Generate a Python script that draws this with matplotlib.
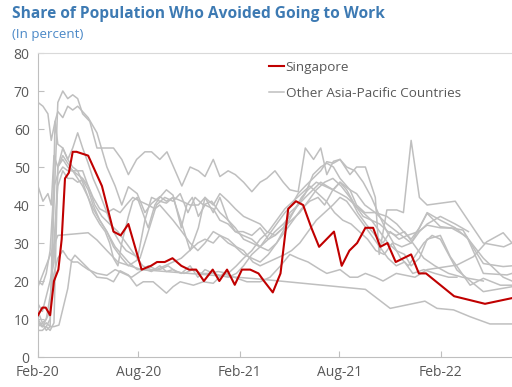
import matplotlib
matplotlib.use("Agg")
import matplotlib.pyplot as plt
import matplotlib.dates as mdates
import pandas as pd
from matplotlib.lines import Line2D

plt.rcParams['font.family'] = ['Open Sans', 'DejaVu Sans']

# survey dates are stored as days since 1 Feb 2020
start = pd.Timestamp('2020-02-01')

sg_days = [0, 8, 14, 22, 29, 37, 43, 49, 56, 63, 70, 91, 116, 137, 150, 164, 188, 205, 216, 230,
           244, 260, 274, 287, 301, 317, 329, 343, 357, 370, 385, 400, 410, 426, 440, 454, 468, 481, 496, 510,
           537, 551, 565, 579, 594, 608, 621, 634, 649, 677, 691, 704, 755, 811, 860]
sg_vals = [11, 13, 13, 11, 20, 23, 31, 47, 48.5, 54, 54, 53, 45, 33, 32, 35, 23, 24, 25, 25,
           26, 24, 23, 23, 20, 23, 20, 23, 19, 23, 23, 22, 20, 17, 22, 39, 41, 40, 34, 29,
           33, 24, 28, 30, 34, 34, 29, 30, 25, 27, 22, 22, 16, 14, 15.5]

c1_days = [0, 7, 15, 22, 29, 36, 45, 54, 63, 72, 81, 94, 107, 137, 152, 164, 179, 194, 206, 221,
           234, 246, 261, 276, 291, 303, 318, 330, 345, 358, 373, 388, 403, 415, 430, 445, 457, 472, 485, 500,
           513, 524, 536, 548, 566, 578, 594, 612, 619, 633, 651, 663, 677, 692, 706, 757, 808, 845, 860]
c1_vals = [9, 8, 8, 10, 40, 67, 70, 68, 69, 68, 64, 62, 55, 55, 52, 48, 52, 54, 54, 52,
           54, 50, 45, 50, 49, 47.5, 52, 47.5, 49, 48, 46, 43.5, 46, 47, 49, 46, 44, 43.5, 55, 52,
           55, 48, 51.5, 52, 48, 50, 50, 42, 27, 38.7, 38.7, 38, 57, 42, 40, 41, 30, 29, 30]

c2_days = [0, 9, 18, 24, 31, 36, 45, 54, 63, 72, 91, 107, 125, 140, 152, 164, 180, 194, 206, 221,
           233, 245, 261, 276, 291, 303, 318, 330, 345, 358, 373, 388, 403, 415, 430, 445, 457, 472, 485, 499,
           513, 524, 536, 548, 566, 578, 593, 612, 633, 651, 663, 677, 692, 706, 730, 757, 781, 808, 844, 860]
c2_vals = [67, 66, 64, 57, 62, 64.6, 63, 66, 65, 66, 63, 59, 50, 45, 40, 44.8, 43, 38, 40.4, 42.2,
           41, 42, 41, 40, 40, 42, 40, 43, 41, 39, 37, 36, 35, 33, 32, 34, 38, 40, 42, 44,
           46, 45, 44, 46, 44, 40, 38, 38, 37, 35, 33, 31, 34, 38, 36, 34, 31, 26, 21, 20]

c3_days = [0, 9, 18, 24, 29, 36, 45, 54, 63, 72, 81, 91, 103, 116, 130, 145, 160, 175, 190, 205,
           221, 236, 250, 265, 281, 296, 312, 327, 345, 360, 373, 388, 403, 418, 433, 448, 463, 478, 493, 508,
           523, 538, 553, 568, 583, 598, 613, 628, 643, 658, 672, 686, 700, 715, 730, 760, 808, 860]
c3_vals = [45, 41, 43, 40, 53, 50, 52, 50, 49, 49, 49, 45, 40, 37, 35, 33, 30, 27, 24, 23,
           23, 24, 22.5, 22, 23, 22, 22, 22.5, 22, 24, 26, 28, 31, 33, 36, 39, 41, 43, 45, 43,
           41, 38, 36, 35, 33, 31, 28, 27, 30, 26, 24, 27, 30, 32, 31, 22.9, 17.2, 18.5]

c4_days = [0, 8, 15, 22, 31, 36, 45, 54, 63, 72, 81, 91, 100, 112, 125, 137, 152, 164, 180, 194,
           206, 221, 233, 245, 261, 276, 291, 303, 318, 330, 345, 358, 373, 388, 403, 418, 430, 445, 457, 472,
           485, 499, 513, 524, 536, 548, 566, 578, 593, 612, 633, 651, 677, 706, 730, 753, 771, 796, 808, 844, 860]
c4_vals = [10, 8, 9, 8, 62, 56, 55, 52, 50, 49, 46, 42, 39, 36, 33, 29, 26, 24, 25.5, 36,
           42, 41, 40.5, 42, 35, 28, 34, 42, 38, 42, 36, 34, 31, 30, 29, 31, 33, 35, 37, 40,
           43, 48, 50, 51, 50, 47, 44, 43, 40, 38, 35, 33, 30, 37.8, 34.3, 33.9, 33.4, 27.3, 24.6, 23.8, 24]

c5_days = [0, 8, 15, 22, 29, 36, 45, 54, 63, 72, 81, 91, 100, 112, 125, 137, 149, 160, 172, 185,
           200, 215, 230, 245, 258, 272, 285, 300, 315, 330, 345, 358, 372, 388, 403, 418, 430, 445, 460, 475,
           490, 505, 520, 535, 550, 566, 580, 595, 612, 626, 639, 655, 670, 690, 706, 730, 751, 778, 808, 851, 860]
c5_vals = [14, 12, 16, 20, 25, 50, 55, 52, 55, 59, 55, 51, 47, 43, 38, 33, 30, 28, 27, 26,
           33, 40, 42, 41, 43, 38, 42, 40, 41, 38, 36, 33, 33, 32, 34, 31, 32, 34, 36, 38,
           41, 44, 46, 47, 45, 42, 38, 35, 32, 30, 33, 31, 32, 33, 34.7, 34, 33.9, 31.7, 22, 21.6, 22]

c6_days = [0, 8, 15, 22, 29, 36, 45, 54, 63, 72, 81, 91, 100, 112, 125, 140, 152, 164, 180, 194,
           206, 221, 233, 245, 260, 276, 290, 303, 318, 330, 345, 360, 373, 388, 403, 418, 433, 448, 460, 472,
           485, 499, 513, 524, 536, 548, 560, 575, 590, 605, 620, 633, 645, 660, 677, 692, 706, 730, 757, 781]
c6_vals = [12, 9, 10, 12, 30, 45, 49, 47, 47, 46, 46.6, 44, 40, 36, 33, 29, 27, 25, 23, 23,
           22.5, 24, 22.5, 23, 22, 24, 21, 23, 22, 21.5, 21, 22, 24, 27, 29, 32, 35, 38, 40, 43,
           45, 47, 49, 51.4, 51, 52, 50, 49, 46, 42, 37, 33, 30, 29, 30, 33, 35, 37, 35, 33]

c7_days = [0, 8, 15, 22, 29, 36, 45, 54, 63, 72, 81, 91, 100, 112, 122, 130, 137, 145, 152, 164,
           172, 180, 190, 200, 212, 221, 233, 245, 260, 270, 280, 291, 303, 318, 330, 345, 358, 372, 388, 403,
           418, 433, 448, 463, 478, 493, 508, 520, 535, 548, 560, 575, 590, 605, 620, 635, 650, 665, 677, 692,
           706, 730, 748, 784, 808, 839, 860]
c7_vals = [7, 7, 8, 7, 9, 50, 53, 51, 49, 47, 45, 42, 38, 35, 33, 30, 26, 24, 30, 37,
           41, 42, 38, 34, 40, 42, 44, 42.6, 34, 40, 42, 37, 40, 39, 36, 35, 33, 32, 31, 29,
           28, 30, 33, 36, 39, 41, 42, 40, 44, 46, 44, 40, 37, 36, 33, 30, 28, 27, 24, 26,
           31, 32, 26.4, 18.9, 20.7, 18.9, 18.9]

c8_days = [0, 8, 15, 22, 29, 36, 45, 54, 63, 72, 81, 91, 100, 112, 125, 137, 149, 160, 172, 185,
           200, 212, 221, 233, 245, 261, 276, 290, 303, 318, 330, 345, 358, 373, 388, 403, 418, 433, 448, 463,
           478, 490, 505, 520, 535, 548, 560, 575, 590, 605, 620, 635, 650, 665, 680, 700, 720, 745, 770, 808]
c8_vals = [20, 19, 22, 28, 45, 48, 50, 49, 49, 48, 47, 45, 42, 39, 38, 39, 38, 40, 42, 41,
           40, 39, 40, 38, 36, 33, 30, 28, 30, 33, 32, 30, 29, 27, 26, 25, 27, 30, 34, 38,
           42, 44, 46, 45, 44, 43, 42, 40, 38, 36, 35, 33, 32, 33, 30, 26, 24, 22, 21, 20]

c9_days = [0, 8, 15, 22, 29, 36, 45, 54, 63, 72, 81, 91, 107, 125, 140, 155, 170, 185, 200, 215,
           230, 245, 260, 275, 290, 303, 318, 330, 345, 360, 373, 390, 403, 418, 433, 448, 460, 475, 490, 505,
           520, 535, 548, 560, 575, 590, 605, 620, 635, 650, 665, 680, 700, 720, 745, 760]
c9_vals = [9, 8, 10, 16, 22, 26, 28, 26, 25, 25, 24, 23, 22, 21.5, 23, 22, 21, 22.5, 24, 23,
           24, 25, 26, 28, 30, 31, 30, 32, 31, 29, 28, 25, 24, 25, 26, 27, 28, 30, 33, 36,
           38, 40, 42, 41, 38, 35, 32, 29, 26, 24, 25, 22, 23, 22, 21, 21]

c10_days = [0, 36, 91, 107, 125, 145, 188, 403, 594, 639, 702, 724, 754, 784, 820, 860]
c10_vals = [18.5, 32, 32.7, 30.8, 28, 25, 23, 20.5, 17.8, 12.8, 14.7, 12.8, 12.4, 10.6, 8.7, 8.7]

c11_days = [0, 8, 15, 22, 29, 38, 54, 61, 67, 107, 125, 137, 149, 164, 179, 191, 209, 233, 245, 258,
            282, 300, 318, 336, 379, 403, 421, 440, 457, 472, 490, 512, 524, 548, 566, 580, 594, 612, 626, 650,
            684, 706, 760, 790, 814, 844, 860]
c11_vals = [8, 9, 7, 8, 8, 8.4, 18, 25.5, 26.8, 21, 20.7, 19.8, 22.7, 21.6, 18.7, 19.8, 19.8, 16.8, 18.5, 19.8,
            18.9, 19.8, 19.4, 22, 19.8, 19.8, 21, 24, 27, 26, 25, 23, 22, 23, 21, 21, 22, 21, 20, 22,
            21, 23, 24.2, 26.4, 30.3, 32.7, 30]

tick_dates = ['2020-02-01', '2020-08-01', '2021-02-01', '2021-08-01', '2022-02-01']

others = [(c1_days, c1_vals), (c2_days, c2_vals), (c3_days, c3_vals), (c4_days, c4_vals),
          (c5_days, c5_vals), (c6_days, c6_vals), (c7_days, c7_vals), (c8_days, c8_vals),
          (c9_days, c9_vals), (c10_days, c10_vals), (c11_days, c11_vals)]

grey = '#BFBFBF'
red = '#C00000'
text_grey = '#595959'


def to_dates(days):
    return start + pd.to_timedelta(days, unit='D')


fig = plt.figure(figsize=(5.12, 3.87), dpi=100)
ax = fig.add_axes([0.0742, 0.0775, 0.9258, 0.7855])

for days, vals in others:
    ax.plot(to_dates(days), vals, color=grey, lw=1.1, zorder=2)
ax.plot(to_dates(sg_days), sg_vals, color=red, lw=1.5, zorder=3)

ax.set_ylim(0, 80)
ax.set_yticks(range(0, 81, 10))
ax.set_xlim(start, to_dates([max(sg_days)])[0])
ax.set_xticks(pd.to_datetime(tick_dates))
ax.xaxis.set_major_formatter(mdates.DateFormatter('%b-%y'))
ax.tick_params(direction='in', length=4, width=0.8, color=grey,
               labelcolor=text_grey, labelsize=10, pad=6)

for side in ['left', 'bottom']:
    ax.spines[side].set_color(grey)
ax.spines['top'].set_color('#D9D9D9')
ax.spines['right'].set_visible(False)

handles = [Line2D([], [], color=red, lw=1.5),
           Line2D([], [], color=grey, lw=1.1)]
ax.legend(handles, ['Singapore', 'Other Asia-Pacific Countries'],
          loc='upper left', bbox_to_anchor=(0.47, 1.0), frameon=False,
          fontsize=9.7, labelcolor=text_grey, handlelength=1.1,
          handletextpad=0.15, labelspacing=0.95, borderaxespad=0.2)

fig.text(0.023, 0.985, 'Share of Population Who Avoided Going to Work',
         fontsize=11.2, fontweight='bold', color='#3D7AB3', va='top')
fig.text(0.023, 0.928, '(In percent)', fontsize=9.6, color='#4A88C7', va='top')

fig.savefig('out.png', dpi=100)
